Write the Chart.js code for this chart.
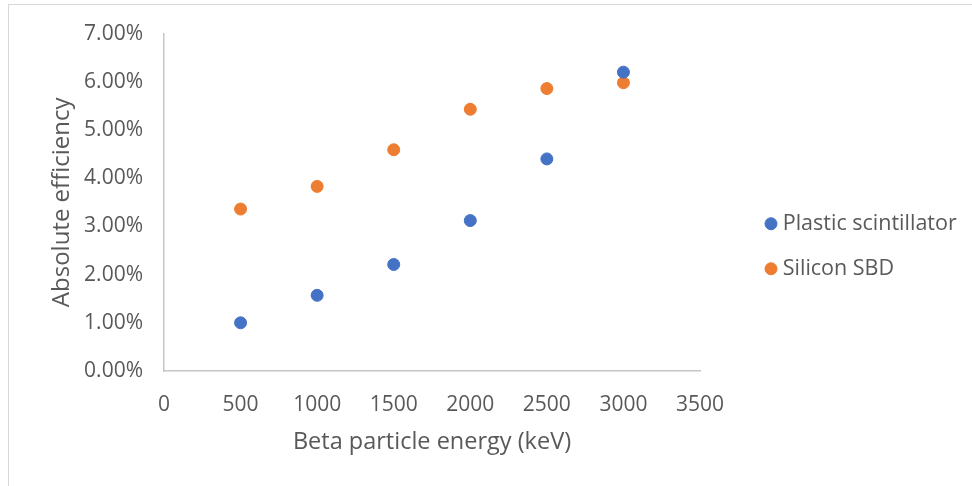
<!DOCTYPE html>
<html>
<head>
<meta charset="utf-8">
<title>Absolute efficiency vs beta energy</title>
<script src="https://cdn.jsdelivr.net/npm/chart.js@4/dist/chart.umd.min.js"></script>
<style>
  html, body { margin: 0; padding: 0; background: #fff; overflow: hidden; }
  #wrap { position: relative; width: 972px; height: 486px; }
  #frame { position: absolute; left: 8px; top: 4px; width: 1000px; height: 1000px; border: 1px solid #d9d9d9; }
  #effChart { position: absolute; left: 0; top: 0; }
</style>
</head>
<body>
<div id="wrap">
  <div id="frame"></div>
  <canvas id="effChart" width="972" height="486"></canvas>
</div>
<script>
"use strict";

// measured points
const energies = [500, 1000, 1500, 2000, 2500, 3000];           // keV
const plasticEff = [0.0100, 0.0157, 0.0221, 0.0312, 0.0440, 0.0620];
const siliconEff = [0.0336, 0.0383, 0.0459, 0.0543, 0.0586, 0.0598];
const seriesNames = ["Plastic scintillator", "Silicon SBD"];

const xTicks = [0, 500, 1000, 1500, 2000, 2500, 3000, 3500];
const yTicks = [0, 0.01, 0.02, 0.03, 0.04, 0.05, 0.06, 0.07];

const textGrey = "#595959";
const axisGrey = "#c6c6c6";
const FONT = "'Open Sans', 'DejaVu Sans', sans-serif";

// where the legend items start (left of marker, top of first row)
const LEGEND_X = 770;
const LEGEND_Y = 213;

const toPoints = vals => energies.map((e, i) => ({ x: e, y: vals[i] }));

// nudge the right-hand legend into place after layout
const legendPlacer = {
  id: "legendPlacer",
  afterLayout(chart) {
    const lg = chart.legend;
    if (!lg || !lg.columnSizes) return;
    const pad = lg.options.labels.padding;
    const dx = LEGEND_X - (lg.left + pad);
    lg.left += dx; lg.right += dx;
    const colH = lg.columnSizes[0].height;
    const curY = ((lg.top + pad) + (lg.bottom - colH)) / 2;
    const dy = LEGEND_Y - curY;
    lg.top += dy; lg.bottom += dy;
  }
};

const ctx = document.getElementById("effChart").getContext("2d");
new Chart(ctx, {
  type: "scatter",
  data: {
    datasets: [
      {
        label: seriesNames[0],
        data: toPoints(plasticEff),
        backgroundColor: "#4472C4",
        borderColor: "#4472C4",
        pointRadius: 6,
        pointHoverRadius: 6
      },
      {
        label: seriesNames[1],
        data: toPoints(siliconEff),
        backgroundColor: "#ED7D31",
        borderColor: "#ED7D31",
        pointRadius: 6,
        pointHoverRadius: 6
      }
    ]
  },
  options: {
    responsive: false,
    animation: false,
    layout: { padding: { top: 33, right: 0, bottom: 0, left: 0 } },
    plugins: {
      tooltip: { enabled: false },
      legend: {
        position: "right",
        labels: {
          usePointStyle: true,
          pointStyle: "circle",
          boxWidth: 2,
          boxHeight: 8.5,
          padding: 23.5,
          color: textGrey,
          font: { family: FONT, size: 21.5 }
        }
      }
    },
    scales: {
      x: {
        type: "linear",
        min: 0,
        max: 3500,
        afterBuildTicks(scale) { scale.ticks = xTicks.map(v => ({ value: v })); },
        afterFit(scale) { scale.height = 115; },
        grid: { display: false, drawTicks: false },
        border: { display: true, color: axisGrey, width: 1.5 },
        ticks: { padding: 21, color: textGrey, font: { family: FONT, size: 21 }, callback: v => String(v) },
        title: {
          display: true,
          text: "Beta particle energy (keV)",
          color: textGrey,
          font: { family: FONT, size: 23.5 },
          padding: { top: 0, bottom: 30 }
        }
      },
      y: {
        type: "linear",
        min: 0,
        max: 0.07,
        afterBuildTicks(scale) { scale.ticks = yTicks.map(v => ({ value: v })); },
        afterFit(scale) { scale.width = 164; },
        grid: { display: false, drawTicks: false },
        border: { display: true, color: axisGrey, width: 1.5 },
        ticks: {
          padding: 21,
          color: textGrey,
          font: { family: FONT, size: 21 },
          callback: v => (v * 100).toFixed(2) + "%"
        },
        title: {
          display: true,
          text: "Absolute efficiency",
          color: textGrey,
          font: { family: FONT, size: 24 },
          padding: { top: 47.5, bottom: 0 }
        }
      }
    }
  },
  plugins: [legendPlacer]
});

// keep the plot area's right edge at 3500 keV = x 700
const chart = Chart.getChart("effChart");
const extra = chart.chartArea.right - 700;
if (Math.abs(extra) > 0.5) {
  chart.options.layout.padding.right = Math.max(0, extra);
  chart.update();
}
</script>
</body>
</html>
